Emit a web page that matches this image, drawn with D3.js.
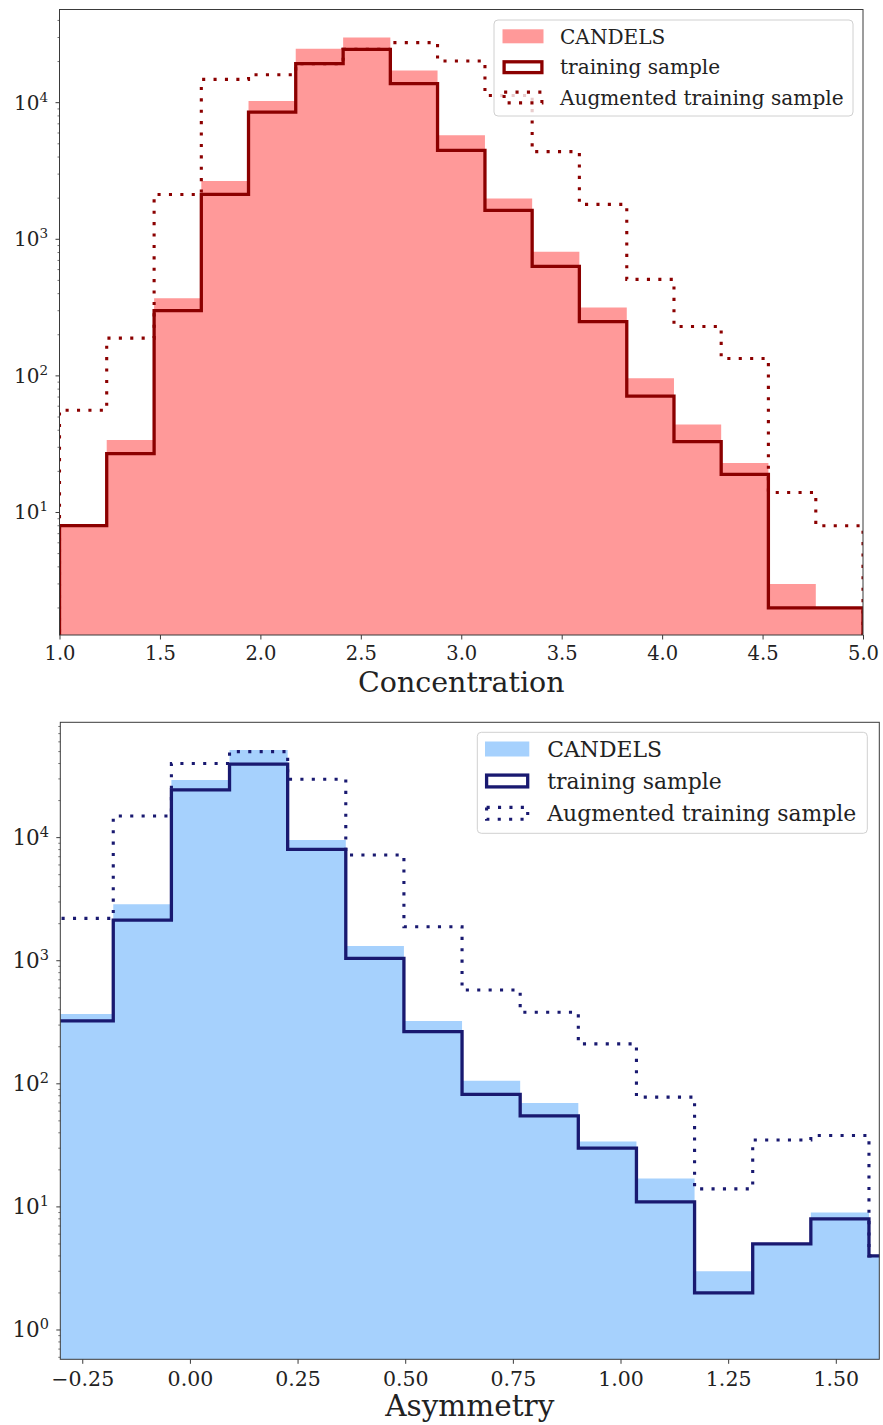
<!DOCTYPE html>
<html>
<head>
<meta charset="utf-8">
<script src="https://cdn.jsdelivr.net/npm/d3@7"></script>
<style>
  html, body { margin: 0; padding: 0; background: #ffffff; }
  svg { display: block; }
  text { font-family: "DejaVu Serif", serif; fill: #222; }
</style>
</head>
<body>
<svg id="fig" width="883" height="1425"></svg>
<script>
// ---- Concentration histogram (17 bins between 1 and 5) ----
const concEdges = [1.000, 1.235, 1.471, 1.706, 1.941, 2.176, 2.412, 2.647, 2.882,
                   3.118, 3.353, 3.588, 3.824, 4.059, 4.294, 4.529, 4.765, 5.000];
const concCandels   = [8, 34, 370, 2670, 10300, 24800, 30000, 17200, 5770, 1990, 810, 317, 96, 44, 23, 3, 2];
const concTraining  = [8, 27, 300, 2130, 8530, 19300, 24600, 13800, 4480, 1630, 634, 250, 71, 33, 19, 2, 2];
const concAugmented = [56, 189, 2130, 14800, 16000, 19300, 24600, 27500, 20200, 11300, 4380, 1800, 509, 230, 134, 14, 8];
const concTicks = [1.0, 1.5, 2.0, 2.5, 3.0, 3.5, 4.0, 4.5, 5.0];

// ---- Asymmetry histogram ----
const asymEdges = [-0.313, -0.178, -0.043, 0.092, 0.227, 0.362, 0.497, 0.632, 0.767,
                   0.902, 1.037, 1.172, 1.307, 1.442, 1.577, 1.712];
const asymCandels   = [369, 2870, 29400, 51500, 9550, 1316, 324, 106, 70, 34, 17, 3, 5, 9, 4];
const asymTraining  = [324, 2140, 24400, 39500, 8040, 1046, 265, 82, 55, 30, 11, 2, 5, 8, 4];
const asymAugmented = [2210, 15000, 40000, 50000, 29800, 7220, 1890, 578, 381, 211, 78, 14, 35, 38, 4];
const asymTicks = [-0.25, 0.00, 0.25, 0.50, 0.75, 1.00, 1.25, 1.50];

const legendLabels = ["CANDELS", "training sample", "Augmented training sample"];

const SOLID_W = 3.3;
const DOT_W = 3.1;
const DOT_DASH = "3.1,8.3";

const svg = d3.select("#fig");
svg.append("rect").attr("width", 883).attr("height", 1425).attr("fill", "#ffffff");

function drawPanel(p) {
  const x = d3.scaleLinear().domain(p.xDomain).range([p.left, p.right]);
  const y = d3.scaleLog().domain(p.yDomain).range([p.bottom, p.top]);
  const g = svg.append("g");
  const clipId = "clip-" + p.id;
  g.append("clipPath").attr("id", clipId)
    .append("rect").attr("x", p.left).attr("y", p.top)
    .attr("width", p.right - p.left).attr("height", p.bottom - p.top);

  const below = p.bottom + 20;
  // outline of a histogram, starting and ending below the axes
  function stepPoints(edges, counts) {
    const pts = [[x(edges[0]), below]];
    counts.forEach((c, i) => {
      pts.push([x(edges[i]), y(c)]);
      pts.push([x(edges[i + 1]), y(c)]);
    });
    pts.push([x(edges[edges.length - 1]), below]);
    return pts;
  }
  const line = d3.line();
  const plot = g.append("g").attr("clip-path", `url(#${clipId})`);

  plot.append("path")
    .attr("d", line(stepPoints(p.edges, p.candels)) + "Z")
    .attr("fill", p.fill).attr("stroke", "none");
  plot.append("path")
    .attr("d", line(stepPoints(p.edges, p.training)))
    .attr("fill", "none").attr("stroke", p.lineColor)
    .attr("stroke-width", SOLID_W).attr("stroke-linejoin", "miter");
  plot.append("path")
    .attr("d", line(stepPoints(p.edges, p.augmented)))
    .attr("fill", "none").attr("stroke", p.lineColor)
    .attr("stroke-width", DOT_W).attr("stroke-dasharray", DOT_DASH);

  // frame
  g.append("rect").attr("x", p.left).attr("y", p.top)
    .attr("width", p.right - p.left).attr("height", p.bottom - p.top)
    .attr("fill", "none").attr("stroke", "#3a3a3a").attr("stroke-width", 1);

  // x axis
  const xAxis = g.append("g").attr("transform", `translate(0,${p.bottom})`)
    .call(d3.axisBottom(x).tickValues(p.xTicks).tickSize(4.5).tickPadding(p.tickPad)
      .tickFormat(p.xFormat));
  xAxis.select(".domain").remove();
  xAxis.selectAll(".tick line").attr("stroke", "#3a3a3a");
  xAxis.selectAll(".tick text")
    .style("font-family", '"DejaVu Serif", serif')
    .style("font-size", p.tickFont + "px").attr("fill", "#222");

  // y axis: decades with superscript labels, plus minor ticks
  const [lo, hi] = p.yDomain;
  const yAxis = g.append("g");
  for (let k = Math.floor(Math.log10(lo)); k <= Math.ceil(Math.log10(hi)); k++) {
    for (let m = 1; m <= 9; m++) {
      const v = m * Math.pow(10, k);
      if (v < lo || v > hi) continue;
      const yy = y(v);
      yAxis.append("line")
        .attr("x1", p.left).attr("x2", p.left - (m === 1 ? 4 : 2))
        .attr("y1", yy).attr("y2", yy)
        .attr("stroke", "#3a3a3a").attr("stroke-width", m === 1 ? 1 : 0.7);
      if (m === 1) {
        const t = yAxis.append("text")
          .attr("x", p.labelRight).attr("y", yy + p.yLabelDrop)
          .attr("text-anchor", "end");
        t.append("tspan").style("font-size", p.yFont + "px").text("10");
        t.append("tspan").style("font-size", p.supFont + "px")
          .attr("dy", -p.supRise).text(String(k));
      }
    }
  }

  // x label
  g.append("text").attr("x", (p.left + p.right) / 2).attr("y", p.xLabelY)
    .attr("text-anchor", "middle").style("font-size", p.xLabelFont + "px")
    .text(p.xLabel);

  // legend
  const L = p.legend;
  const lg = svg.append("g");
  lg.append("rect").attr("x", L.x).attr("y", L.y).attr("width", L.w).attr("height", L.h)
    .attr("rx", 4).attr("fill", "#ffffff").attr("fill-opacity", 0.8)
    .attr("stroke", "#d0d0d0").attr("stroke-width", 1);
  legendLabels.forEach((lab, i) => {
    const cy = L.rows[i];
    if (i === 0) {
      lg.append("rect").attr("x", L.px).attr("y", cy - L.ph / 2)
        .attr("width", L.pw).attr("height", L.ph).attr("fill", p.fill);
    } else {
      const r = lg.append("rect").attr("x", L.px + 1.6).attr("y", cy - L.ph / 2 + 1.6)
        .attr("width", L.pw - 3.2).attr("height", L.ph - 3.2)
        .attr("fill", "none").attr("stroke", p.lineColor);
      if (i === 1) r.attr("stroke-width", SOLID_W);
      else r.attr("stroke-width", DOT_W).attr("stroke-dasharray", DOT_DASH);
    }
    lg.append("text").attr("x", L.tx).attr("y", cy)
      .attr("dy", "0.36em").style("font-size", L.font + "px").text(lab);
  });
}

drawPanel({
  id: "conc",
  left: 59.5, right: 863, top: 9.5, bottom: 635,
  xDomain: [1, 5], yDomain: [1.268, 48100],
  edges: concEdges, candels: concCandels, training: concTraining, augmented: concAugmented,
  fill: "#ff9999", lineColor: "#8b0000",
  xTicks: concTicks, xFormat: d3.format(".1f"), tickPad: 7,
  tickFont: 19.5, yFont: 20, supFont: 13.5, supRise: 8, yLabelDrop: 7, labelRight: 48,
  xLabel: "Concentration", xLabelFont: 28.5, xLabelY: 692,
  legend: { x: 494, y: 20, w: 359, h: 96, px: 502.5, pw: 41, ph: 14,
            rows: [36.3, 67.2, 97.5], tx: 560, font: 20.1 }
});

drawPanel({
  id: "asym",
  left: 60.3, right: 879.3, top: 722.3, bottom: 1359.3,
  xDomain: [-0.301, 1.601], yDomain: [0.578, 86500],
  edges: asymEdges, candels: asymCandels, training: asymTraining, augmented: asymAugmented,
  fill: "#a6d1fd", lineColor: "#191970",
  xTicks: asymTicks, xFormat: v => d3.format(".2f")(v).replace("-", "\u2212"), tickPad: 7.5,
  tickFont: 20.5, yFont: 21.5, supFont: 14.5, supRise: 8.5, yLabelDrop: 7.5, labelRight: 49,
  xLabel: "Asymmetry", xLabelFont: 29.5, xLabelY: 1416,
  legend: { x: 477.3, y: 732.3, w: 390, h: 101, px: 485, pw: 44.3, ph: 15,
            rows: [749, 781, 813.3], tx: 547.3, font: 21.9 }
});
</script>
</body>
</html>
